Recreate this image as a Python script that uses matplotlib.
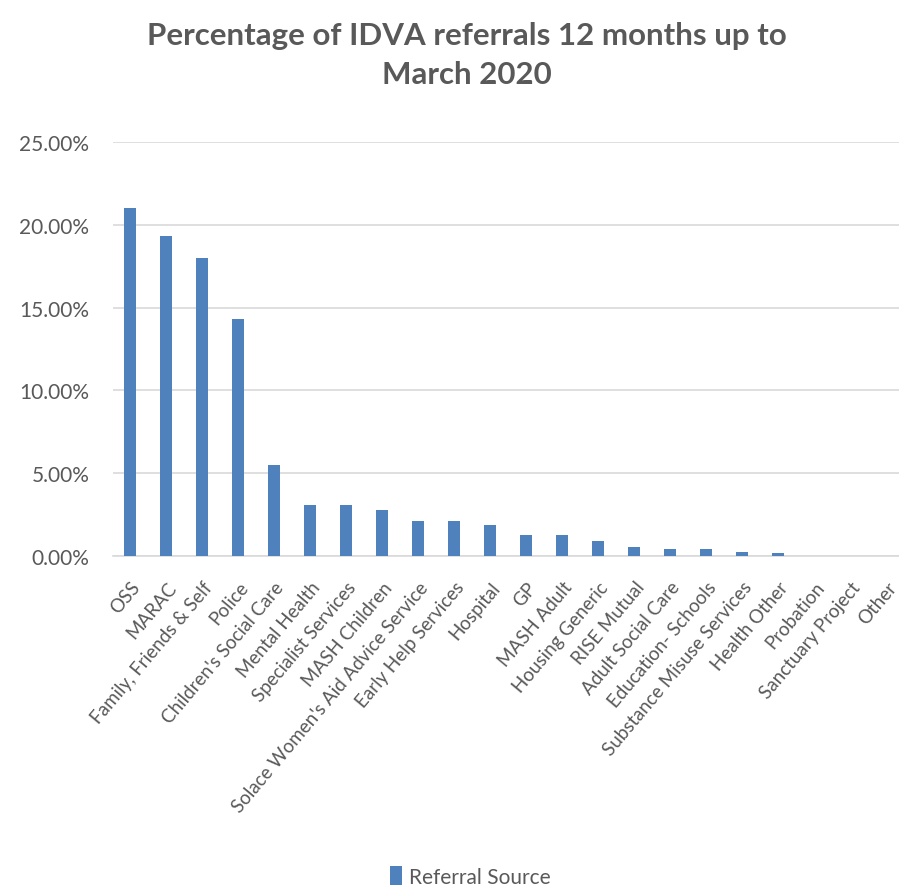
import matplotlib.pyplot as plt
from matplotlib.ticker import PercentFormatter

# Referral sources and share of IDVA referrals (%)
sources = ["OSS", "MARAC", "Family, Friends & Self", "Police", "Children's Social Care",
           "Mental Health", "Specialist Services", "MASH Children",
           "Solace Women's Aid Advice Service", "Early Help Services", "Hospital", "GP",
           "MASH Adult", "Housing Generic", "RISE Mutual", "Adult Social Care",
           "Education- Schools", "Substance Misuse Services", "Health Other",
           "Probation", "Sanctuary Project", "Other"]
percent = [21.0, 19.3, 18.0, 14.3, 5.5, 3.1, 3.1, 2.8, 2.1, 2.1, 1.85, 1.3,
           1.25, 0.9, 0.55, 0.45, 0.45, 0.25, 0.2, 0.0, 0.0, 0.0]
yticks = [0, 5, 10, 15, 20, 25]

plt.rcParams['font.family'] = ['Lato', 'DejaVu Sans']
grey = "#595959"

fig = plt.figure(figsize=(8.99, 8.87), dpi=100)
ax = fig.add_axes([0.1257, 0.372, 0.8743, 0.4667])

x = range(len(sources))
ax.bar(x, percent, width=0.33, color="#4f81bd", label="Referral Source", zorder=3)

ax.set_ylim(0, 25)
ax.set_xlim(-0.48, 21.35)
ax.set_yticks(yticks)
ax.yaxis.set_major_formatter(PercentFormatter(decimals=2))
ax.grid(axis="y", color="#d9d9d9", linewidth=1.2, zorder=0)
for side in ["top", "right", "left"]:
    ax.spines[side].set_visible(False)
ax.spines["bottom"].set_color("#d9d9d9")
ax.spines["bottom"].set_linewidth(1.2)
ax.tick_params(axis="both", length=0, colors=grey)
ax.tick_params(axis="y", labelsize=15, pad=17)

ax.set_xticks(list(x))
ax.set_xticklabels(sources, rotation=50, ha="right", rotation_mode="anchor",
                   fontsize=13.5, color=grey)
ax.tick_params(axis="x", pad=16)

fig.text(0.519, 0.975, "Percentage of IDVA referrals 12 months up to\nMarch 2020",
         ha="center", va="top", fontsize=22.5, fontweight="bold", color=grey,
         linespacing=1.45)

fig.legend(loc="lower center", bbox_to_anchor=(0.523, -0.022), frameon=False,
           fontsize=15, labelcolor=grey, handlelength=0.6, handleheight=1.0,
           handletextpad=0.3)

fig.savefig("out.png", dpi=100)
